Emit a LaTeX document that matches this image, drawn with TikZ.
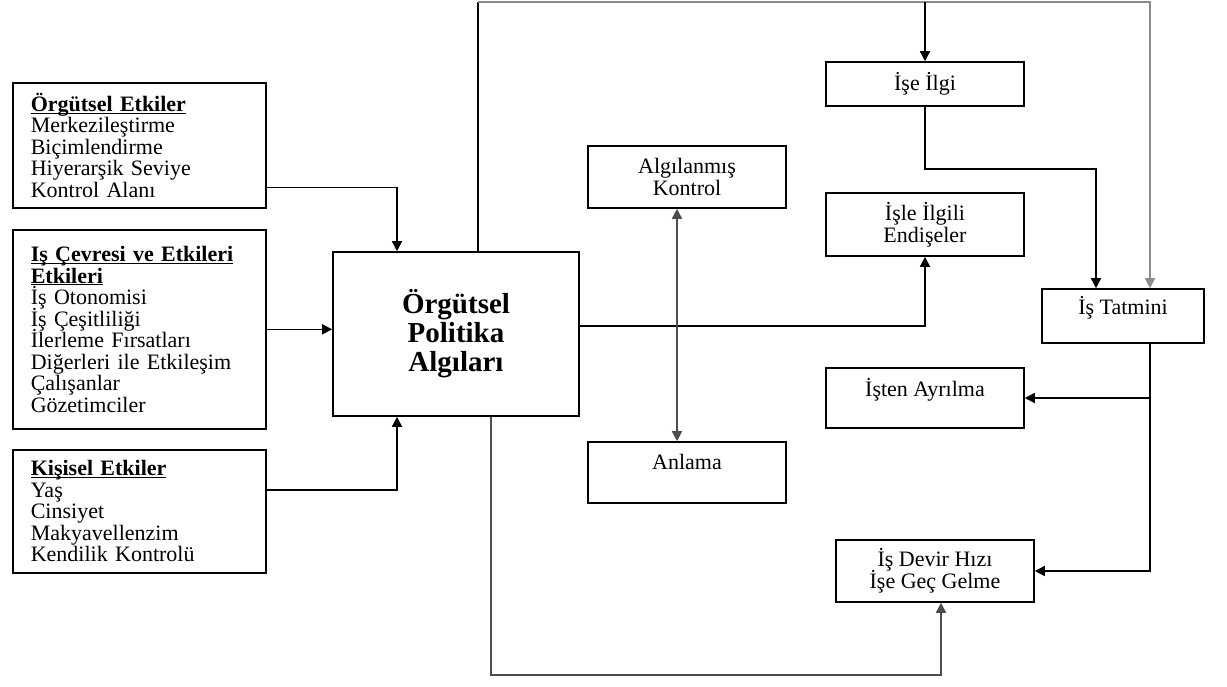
\documentclass[tikz,border=0pt]{standalone}
\usepackage{fontspec}
\setmainfont{Liberation Serif}
\usetikzlibrary{arrows.meta, positioning}
\def\tightlines{\lineskiplimit=-100pt\relax}
\def\boxfont{\fontsize{22}{21.5}\selectfont\tightlines}
\newcommand{\headline}[1]{\underline{\smash{\textbf{#1}}}\vphantom{\textbf{#1}}}

\begin{document}
\begin{tikzpicture}[x=1pt, y=1pt, ->, >={Triangle[length=10pt,width=10pt]}, line width=1.6pt]
    \tikzstyle{box}=[draw=black, line width=1.6pt, inner sep=0pt, font=\boxfont]
    \tikzstyle{factor box}=[box, anchor=north west, text width=217pt, inner xsep=18pt, align=left]
    \tikzstyle{result box}=[box, minimum width=198pt, align=center, font=\fontsize{22}{22}\selectfont\tightlines]
    \tikzstyle{main box}=[box, minimum width=246pt, minimum height=164pt, align=center, font=\fontsize{29}{29}\selectfont\bfseries]
    \tikzstyle{grey line}=[draw=black!45]

    \useasboundingbox (0,0) rectangle (1227,-686);

    % Draw the factor boxes on the left
    \node[factor box, minimum height=125pt] (E-1) at (12,-82) {\headline{Örgütsel Etkiler}\\ Merkezileştirme\\ Biçimlendirme\\ Hiyerarşik Seviye\\ Kontrol Alanı};
    \node[factor box, minimum height=199pt] (E-2) at (12,-229) {\headline{Iş Çevresi ve Etkileri}\\ \headline{Etkileri}\\ İş Otonomisi\\ İş Çeşitliliği\\ İlerleme Fırsatları\\ Diğerleri ile Etkileşim\\ Çalışanlar\\ Gözetimciler};
    \node[factor box, minimum height=123pt] (E-3) at (12,-449) {\headline{Kişisel Etkiler}\\ Yaş\\ Cinsiyet\\ Makyavellenzim\\ Kendilik Kontrolü};

    % Draw the central box
    \node[main box] (P) at (456,-334) {Örgütsel\\ Politika\\ Algıları};

    % Draw the boxes on the right
    \node[result box, minimum height=62pt] (K) at (687,-177) {Algılanmış\\ Kontrol};
    \node[result box, minimum height=61pt] (A) at (687,-472.5) {Anlama\\ \mbox{}};
    \foreach \name/\x/\y/\h/\txt in {S-1/925/-84/44/{İşe İlgi}, S-2/925/-224.5/63/{İşle İlgili\\ Endişeler}, S-4/925/-398/60/{İşten Ayrılma\\ \mbox{}}, S-5/935/-571/62/{İş Devir Hızı\\ İşe Geç Gelme}}
        \node[result box, minimum height=\h pt] (\name) at (\x,\y) {\txt};
    \node[result box, minimum width=162pt, minimum height=54pt] (S-3) at (1123,-316) {İş Tatmini\\ \mbox{}};

    \coordinate (T) at (0,-2);
    \coordinate (B) at (0,-675);

    % Factors into the central box
    \draw ([yshift=21pt]E-1.south east) -| ([xshift=-59pt]P.north);
    \draw (E-2.east) -- (E-2.east -| P.west);
    \draw ([yshift=21.5pt]E-3.east) -| ([xshift=-59pt]P.south);

    % Central box to the outcomes
    \draw[-] ([xshift=22pt]P.north) -- ([xshift=22pt]P.north |- T);
    \draw[grey line] ([xshift=22pt]P.north |- T) -| ([xshift=27pt]S-3.north);
    \draw (S-1.north |- T) -- (S-1.north);
    \draw (S-1.south) |- ([yshift=-62pt]S-1.south) -| ([xshift=-27pt]S-3.north);
    \draw ([yshift=8pt]P.east) -| (S-2.south);
    \draw[<->, draw=black!70] ([xshift=-10pt]K.south) -- ([xshift=-10pt]A.north);
    \draw ([xshift=27pt]S-3.south) |- (S-5.east);
    \draw ([xshift=27pt]S-3.south |- S-4.east) -- (S-4.east);
    \draw[draw=black!70] ([xshift=35pt]P.south) -- ([xshift=35pt]P.south |- B) -| ([xshift=6pt]S-5.south);
\end{tikzpicture}
\end{document}
